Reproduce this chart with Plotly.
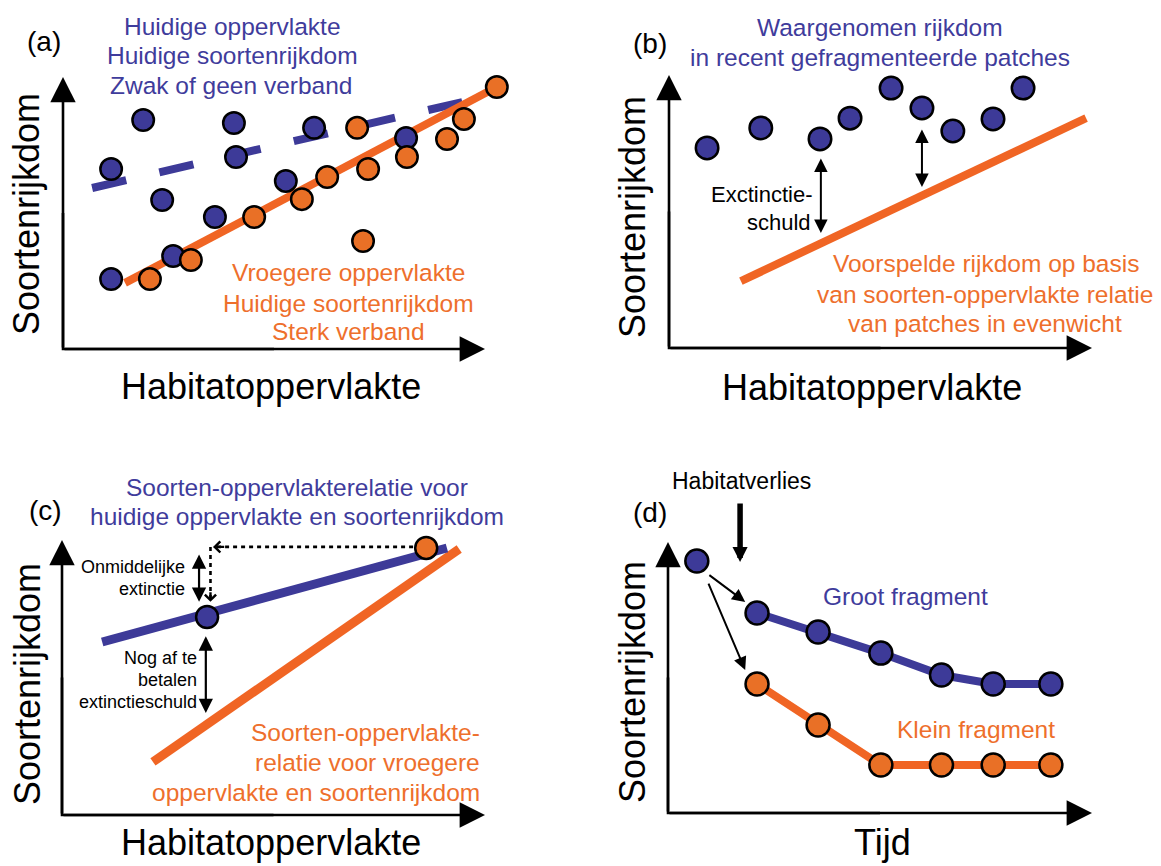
import plotly.graph_objects as go

W, H = 1161, 866
BLUE = "#3d3a98"
BLUE_TXT = "#3f3c9c"
ORANGE = "#e97026"
ORANGE_LINE = "#f06524"
ORANGE_TXT = "#ee6f2c"
FONT = "Liberation Sans, Arial, Helvetica, sans-serif"

# ---------------- data (axis units 0-100 on each panel) ----------------
# (a)
a_blue_x = [11.4, 19.0, 23.5, 11.4, 26.1, 36.0, 40.5, 41.0, 52.8, 59.5, 81.3]
a_blue_y = [66.2, 84.2, 54.8, 25.7, 34.2, 48.5, 83.1, 70.6, 61.8, 81.3, 77.6]
a_orange_x = [20.6, 30.3, 45.3, 56.6, 62.6, 69.7, 72.3, 71.1, 81.5, 91.0, 95.0, 102.8]
a_orange_y = [25.7, 32.7, 48.5, 55.1, 63.2, 81.3, 66.2, 39.7, 70.6, 77.2, 84.6, 96.3]
a_orange_fit_x = [14.7, 102.8]
a_orange_fit_y = [24.3, 96.3]
a_blue_fit_x = [6.9, 101.9]
a_blue_fit_y = [59.2, 93.4]

# (b)
b_blue_x = [9.0, 21.7, 35.7, 42.8, 52.5, 59.8, 67.1, 76.6, 83.7]
b_blue_y = [73.3, 80.6, 76.6, 84.2, 95.2, 87.9, 79.5, 83.9, 95.2]
b_pred_x = [17.0, 98.6]
b_pred_y = [24.5, 84.2]
b_debt_x = [35.9, 59.8]
b_debt_top = [70.0, 80.6]
b_debt_bottom = [42.1, 59.0]

# (c)
c_now_x = [9.5, 91.0]
c_now_y = [62.9, 97.1]
c_past_x = [21.5, 93.9]
c_past_y = [19.3, 96.7]
c_past_pt_x = [86.1]
c_past_pt_y = [97.1]
c_now_pt_x = [34.3]
c_now_pt_y = [72.0]
c_dot_h_x = [83.0, 35.7]
c_dot_h_y = [97.5, 97.5]
c_dot_v_x = [35.1, 35.1]
c_dot_v_y = [97.5, 77.5]
c_immediate_x = 32.4
c_immediate_y = [95.3, 77.5]
c_debt_x = 34.0
c_debt_y = [65.5, 37.1]

# (d)
d_time = [6.8, 21.0, 35.4, 50.2, 64.5, 76.7, 90.3]
d_large = [93.0, 73.8, 66.8, 59.0, 50.9, 47.6, 47.6]
d_small = [47.6, 32.5, 17.7, 17.7, 17.7, 17.7]  # from the 2nd time step
d_loss_x = 17.0
d_loss_y = [114.8, 92.6]
d_split_from = [9.4, 88.2, 9.4, 85.2]
d_split_to = [18.2, 77.9, 18.2, 52.8]

# ---------------- layout of the four panels (pixel boxes) ----------------
PANELS = [  # origin x, arrow tip x, origin y, arrow tip y  (pixels)
    (63, 485, 349, 77),
    (669, 1092, 348, 75),
    (62, 485, 815, 540),
    (668, 1092, 813, 542),
]
XR = (-14, 112)
YR = (-12, 120)

fig = go.Figure()
layout_axes = {}
for i, (x0, x1, y0, y1) in enumerate(PANELS):
    sx = (x1 - x0) / 100.0
    sy = (y0 - y1) / 100.0
    dx = [(x0 + XR[0] * sx) / W, (x0 + XR[1] * sx) / W]
    dy = [1 - (y0 - YR[0] * sy) / H, 1 - (y0 - YR[1] * sy) / H]
    n = "" if i == 0 else str(i + 1)
    layout_axes["xaxis" + n] = dict(domain=dx, range=list(XR), visible=False,
                                    fixedrange=True, anchor="y" + n)
    layout_axes["yaxis" + n] = dict(domain=dy, range=list(YR), visible=False,
                                    fixedrange=True, anchor="x" + n)


def refs(i):
    n = "" if i == 0 else str(i + 1)
    return "x" + n, "y" + n


def line(i, x, y, color, width, dash=None):
    xr, yr = refs(i)
    fig.add_trace(go.Scatter(x=x, y=y, mode="lines", xaxis=xr, yaxis=yr,
                             line=dict(color=color, width=width, dash=dash),
                             hoverinfo="skip", showlegend=False, cliponaxis=False))


def points(i, x, y, color, size):
    xr, yr = refs(i)
    fig.add_trace(go.Scatter(x=x, y=y, mode="markers", xaxis=xr, yaxis=yr,
                             marker=dict(color=color, size=size,
                                         line=dict(color="black", width=2.5)),
                             hoverinfo="skip", showlegend=False, cliponaxis=False))


annotations = []


def arrow(i, x, y, ax, ay, width, size, head, both=False, color="black"):
    xr, yr = refs(i)
    annotations.append(dict(
        xref=xr, yref=yr, axref=xr, ayref=yr, x=x, y=y, ax=ax, ay=ay,
        text="", showarrow=True, arrowhead=head, arrowsize=size, arrowwidth=width,
        arrowcolor=color, standoff=0, startstandoff=0,
        arrowside="end+start" if both else "end",
        startarrowhead=head, startarrowsize=size))


def txt(s, px, py, size, color="black", anchor="center", angle=0):
    annotations.append(dict(
        xref="paper", yref="paper", x=px / W, y=1 - py / H, text=s,
        showarrow=False, xanchor=anchor, yanchor="middle", textangle=angle,
        font=dict(family=FONT, size=size, color=color)))


# axes of each panel
for i in range(4):
    line(i, [0, 0, 50], [50, 0, 0], "black", 2.6)
    arrow(i, 0, 100, 0, 0, 2.6, 1.95, 2)
    arrow(i, 100, 0, 0, 0, 2.6, 1.95, 2)

# (a)
line(0, a_blue_fit_x, a_blue_fit_y, BLUE, 8, dash="35px,34px")
line(0, a_orange_fit_x, a_orange_fit_y, ORANGE_LINE, 8)
points(0, a_blue_x, a_blue_y, BLUE, 21.5)
points(0, a_orange_x, a_orange_y, ORANGE, 21.5)

# (b)
line(1, b_pred_x, b_pred_y, ORANGE_LINE, 8)
points(1, b_blue_x, b_blue_y, BLUE, 22.5)
for k in range(len(b_debt_x)):
    arrow(1, b_debt_x[k], b_debt_bottom[k], b_debt_x[k], b_debt_top[k], 2, 1.35, 2, both=True)

# (c)
line(2, c_past_x, c_past_y, ORANGE_LINE, 9)
line(2, c_now_x, c_now_y, BLUE, 9)
line(2, c_dot_h_x, c_dot_h_y, "black", 2.6, dash="4px,4px")
line(2, c_dot_v_x, c_dot_v_y, "black", 2.6, dash="4px,4px")
arrow(2, c_dot_h_x[1], c_dot_h_y[1], c_dot_h_x[1] + 3, c_dot_h_y[1], 2.4, 0.9, 4)
arrow(2, c_dot_v_x[1], c_dot_v_y[1], c_dot_v_x[1], c_dot_v_y[1] + 4, 2.4, 0.9, 4)
arrow(2, c_immediate_x, c_immediate_y[1], c_immediate_x, c_immediate_y[0], 2.2, 1.3, 2, both=True)
arrow(2, c_debt_x, c_debt_y[1], c_debt_x, c_debt_y[0], 2.2, 1.3, 2, both=True)
points(2, c_now_pt_x, c_now_pt_y, BLUE, 22)
points(2, c_past_pt_x, c_past_pt_y, ORANGE, 22)

# (d)
line(3, d_time[1:], d_large[1:], BLUE, 8)
line(3, d_time[1:], d_small, ORANGE_LINE, 8)
points(3, d_time, d_large, BLUE, 23)
points(3, d_time[1:], d_small, ORANGE, 23)
arrow(3, d_loss_x, d_loss_y[1], d_loss_x, d_loss_y[0], 5.5, 0.55, 2)
arrow(3, d_split_to[0], d_split_to[1], d_split_from[0], d_split_from[1], 2, 1.3, 2)
arrow(3, d_split_to[2], d_split_to[3], d_split_from[2], d_split_from[3], 2, 1.3, 2)

# ---------------- texts ----------------
AX = 36
T = 24.5
# (a)
txt("(a)", 44, 42, 28)
txt("Huidige oppervlakte", 232, 26, T, BLUE_TXT)
txt("Huidige soortenrijkdom", 232, 56, T, BLUE_TXT)
txt("Zwak of geen verband", 231, 85, T, BLUE_TXT)
txt("Vroegere oppervlakte", 348, 273, T, ORANGE_TXT)
txt("Huidige soortenrijkdom", 348, 303, T, ORANGE_TXT)
txt("Sterk verband", 348, 332, T, ORANGE_TXT)
txt("Soortenrijkdom", 27, 214, AX, angle=-90)
txt("Habitatoppervlakte", 271, 386, AX)
# (b)
txt("(b)", 650, 43, 28)
txt("Waargenomen rijkdom", 880, 28, T, BLUE_TXT)
txt("in recent gefragmenteerde patches", 880, 57, T, BLUE_TXT)
txt("Exctinctie-", 814, 194, 22, anchor="right")
txt("schuld", 813, 223, 22, anchor="right")
txt("Voorspelde rijkdom op basis", 986, 264, T, ORANGE_TXT)
txt("van soorten-oppervlakte relatie", 985, 294, T, ORANGE_TXT)
txt("van patches in evenwicht", 985, 323, T, ORANGE_TXT)
txt("Soortenrijkdom", 633, 217, AX, angle=-90)
txt("Habitatoppervlakte", 872, 387, AX)
# (c)
txt("(c)", 45, 510, 28)
txt("Soorten-oppervlakterelatie voor", 297, 487, T, BLUE_TXT)
txt("huidige oppervlakte en soortenrijkdom", 297, 516, T, BLUE_TXT)
txt("Onmiddelijke", 187, 567, 18, anchor="right")
txt("extinctie", 187, 589, 18, anchor="right")
txt("Nog af te", 199, 658, 18, anchor="right")
txt("betalen", 199, 680, 18, anchor="right")
txt("extinctieschuld", 199, 702, 18, anchor="right")
txt("Soorten-oppervlakte-", 482, 732, T, ORANGE_TXT, anchor="right")
txt("relatie voor vroegere", 482, 762, T, ORANGE_TXT, anchor="right")
txt("oppervlakte en soortenrijkdom", 482, 792, T, ORANGE_TXT, anchor="right")
txt("Soortenrijkdom", 27, 684, AX, angle=-90)
txt("Habitatoppervlakte", 271, 842, AX)
# (d)
txt("Habitatverlies", 741, 481, 23)
txt("(d)", 650, 512, 28)
txt("Groot fragment", 905, 596, T, BLUE_TXT)
txt("Klein fragment", 976, 729, T, ORANGE_TXT)
txt("Soortenrijkdom", 632, 682, AX, angle=-90)
txt("Tijd", 882, 842, AX)

fig.update_layout(
    width=W, height=H, margin=dict(l=0, r=0, t=0, b=0),
    paper_bgcolor="white", plot_bgcolor="rgba(0,0,0,0)",
    showlegend=False, annotations=annotations, **layout_axes)

fig.write_html("out.html", config={"displayModeBar": False, "staticPlot": True})
